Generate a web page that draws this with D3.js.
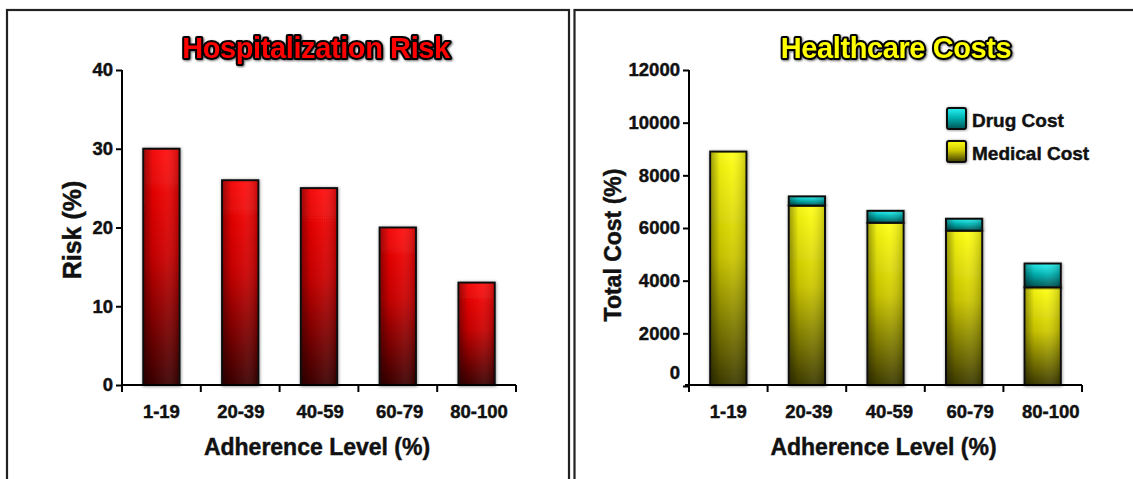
<!DOCTYPE html>
<html>
<head>
<meta charset="utf-8">
<script src="https://cdn.jsdelivr.net/npm/d3@7"></script>
<style>
  html, body { margin: 0; padding: 0; background: #fff; }
  svg { display: block; font-family: "Liberation Sans", Arial, sans-serif; font-weight: bold; }
  .lbl { fill: #111; stroke: #111; stroke-width: 0.45px; }
</style>
</head>
<body>
<svg id="chart" width="1133" height="479"></svg>
<script>
// Adherence groups shared by both panels
const categories = ["1-19", "20-39", "40-59", "60-79", "80-100"];

// Hospitalization risk (%) per adherence group
const riskValues = [30, 26, 25, 20, 13];
const riskTicks = [0, 10, 20, 30, 40];

// Healthcare costs, stacked: medical cost at the bottom, drug cost on top
const medicalCost = [8900, 6850, 6200, 5900, 3750];
const drugCost = [0, 350, 450, 450, 900];
const costTicks = [0, 2000, 4000, 6000, 8000, 10000, 12000];

const seriesNames = ["Medical Cost", "Drug Cost"];
const legendNames = ["Drug Cost", "Medical Cost"];

const svg = d3.select("#chart");
const defs = svg.append("defs");

// Vertical shading: bright at the top, dark at the bottom
function vGradient(id, top, mid, bottom) {
  const g = defs.append("linearGradient").attr("id", id)
    .attr("x1", 0).attr("y1", 0).attr("x2", 0).attr("y2", 1);
  g.append("stop").attr("offset", "0%").attr("stop-color", top);
  g.append("stop").attr("offset", "45%").attr("stop-color", mid);
  g.append("stop").attr("offset", "100%").attr("stop-color", bottom);
}
vGradient("redFill", "#ff0a0a", "#cc0000", "#3c0000");
vGradient("yellowFill", "#ffff14", "#cdc800", "#3e3b00");
vGradient("cyanFill", "#2af2f2", "#00b4b4", "#005454");

// Horizontal sheen laid over each bar: darker edges, clearer middle
const sheen = defs.append("linearGradient").attr("id", "sheen")
  .attr("x1", 0).attr("y1", 0).attr("x2", 1).attr("y2", 0);
sheen.append("stop").attr("offset", "0%").attr("stop-color", "#000").attr("stop-opacity", 0.35);
sheen.append("stop").attr("offset", "25%").attr("stop-color", "#000").attr("stop-opacity", 0.05);
sheen.append("stop").attr("offset", "60%").attr("stop-color", "#fff").attr("stop-opacity", 0.05);
sheen.append("stop").attr("offset", "100%").attr("stop-color", "#000").attr("stop-opacity", 0.2);

const shadow = defs.append("filter").attr("id", "barShadow")
  .attr("x", "-30%").attr("y", "-10%").attr("width", "160%").attr("height", "120%");
shadow.append("feDropShadow").attr("dx", 0.5).attr("dy", 0.5)
  .attr("stdDeviation", 1.4).attr("flood-color", "#000").attr("flood-opacity", 0.45);

const titleGlow = defs.append("filter").attr("id", "titleGlow")
  .attr("x", "-5%").attr("y", "-30%").attr("width", "110%").attr("height", "160%");
titleGlow.append("feGaussianBlur").attr("in", "SourceAlpha").attr("stdDeviation", 1.3).attr("result", "b");
titleGlow.append("feOffset").attr("in", "b").attr("dx", 0.5).attr("dy", 0.5).attr("result", "o");
titleGlow.append("feComponentTransfer").attr("in", "o").attr("result", "s")
  .append("feFuncA").attr("type", "linear").attr("slope", 0.6);
const tm = titleGlow.append("feMerge");
tm.append("feMergeNode").attr("in", "s");
tm.append("feMergeNode").attr("in", "SourceGraphic");

// Panel frames
svg.append("rect").attr("x", 7).attr("y", 10).attr("width", 562).attr("height", 520)
  .attr("fill", "none").attr("stroke", "#222").attr("stroke-width", 2.2);
svg.append("rect").attr("x", 574.5).attr("y", 10).attr("width", 600).attr("height", 520)
  .attr("fill", "none").attr("stroke", "#222").attr("stroke-width", 2.2);

function drawPanel(opt) {
  const g = svg.append("g");
  const x = d3.scaleBand().domain(categories)
    .range([opt.left, opt.right]).paddingInner(0.54).paddingOuter(0.27);
  const y = d3.scaleLinear().domain(opt.domain).range([opt.base, 70]);

  // Bars
  opt.drawBars(g, x, y);

  // Y axis
  const ya = g.append("g").attr("transform", `translate(${opt.left},0)`)
    .call(d3.axisLeft(y).tickValues(opt.ticks).tickFormat(d3.format("d"))
      .tickSize(6).tickPadding(3).tickSizeOuter(0));
  ya.select(".domain").attr("stroke", "#000").attr("stroke-width", 2)
    .attr("d", `M0,385V${y(opt.domain[1])}`);
  ya.selectAll(".tick line").attr("stroke", "#000").attr("stroke-width", 2);
  ya.selectAll(".tick text").attr("class", "lbl").attr("fill", null)
    .style("font-size", "18.5px").style("font-weight", "bold")
    .attr("dy", d => d === 0 ? (opt.zeroLift ? "-0.4em" : "0.32em") : "0.32em");

  // X axis: line with boundary ticks between groups, labels centred under bars
  const xa = g.append("g").attr("transform", "translate(0,385)");
  xa.append("line").attr("x1", opt.left - opt.axisLead).attr("x2", opt.right)
    .attr("stroke", "#000").attr("stroke-width", 2);
  const bounds = d3.range(categories.length + 1).map(i => opt.left + i * x.step());
  xa.selectAll("line.b").data(bounds).join("line").attr("class", "b")
    .attr("x1", d => d).attr("x2", d => d).attr("y1", 0).attr("y2", 7)
    .attr("stroke", "#000").attr("stroke-width", 2);
  xa.selectAll("text").data(categories).join("text").attr("class", "lbl")
    .attr("x", (d, i) => x(d) + x.bandwidth() / 2 + i * opt.labelDrift).attr("y", 33)
    .attr("text-anchor", "middle")
    .style("font-size", "18.5px").text(d => d);

  // Axis titles
  g.append("text").attr("class", "lbl").attr("x", (opt.left + opt.right) / 2 - 2).attr("y", 455)
    .attr("text-anchor", "middle").style("font-size", "23px")
    .text("Adherence Level (%)");
  g.append("text").attr("class", "lbl")
    .attr("transform", `translate(${opt.yTitleX},${opt.yTitleY}) rotate(-90)`)
    .attr("text-anchor", "middle").style("font-size", opt.yTitleSize)
    .text(opt.yTitle);

  // Chart title with dark outline
  g.append("text").attr("x", opt.titleX).attr("y", 58).attr("text-anchor", "middle")
    .style("font-size", "29px").style("letter-spacing", "-0.4px").attr("fill", opt.titleColor)
    .attr("stroke", "#000").attr("stroke-width", 4).attr("stroke-linejoin", "round")
    .attr("paint-order", "stroke").attr("filter", "url(#titleGlow)")
    .text(opt.title);
  return { g, x, y };
}

// Left panel: hospitalization risk
drawPanel({
  left: 122, right: 516, base: 385, domain: [0, 40], ticks: riskTicks, axisLead: 0,
  labelDrift: 0.6,
  yTitle: "Risk (%)", yTitleX: 81, yTitleY: 230, yTitleSize: "25px",
  title: "Hospitalization Risk", titleX: 316, titleColor: "#ff0000",
  drawBars(g, x, y) {
    const bars = g.selectAll("g.bar").data(categories).join("g").attr("class", "bar");
    bars.append("rect")
      .attr("x", d => x(d)).attr("width", x.bandwidth())
      .attr("y", (d, i) => y(riskValues[i])).attr("height", (d, i) => y(0) - y(riskValues[i]))
      .attr("fill", "url(#redFill)").attr("stroke", "#111").attr("stroke-width", 2)
      .attr("filter", "url(#barShadow)");
    bars.append("rect")
      .attr("x", d => x(d) + 1).attr("width", x.bandwidth() - 2)
      .attr("y", (d, i) => y(riskValues[i]) + 1).attr("height", (d, i) => y(0) - y(riskValues[i]) - 2)
      .attr("fill", "url(#sheen)");
  }
});

// Right panel: stacked healthcare costs
drawPanel({
  left: 689, right: 1082, base: 386, domain: [0, 12000], ticks: costTicks, axisLead: 4,
  zeroLift: true, labelDrift: 2,
  yTitle: "Total Cost (%)", yTitleX: 621, yTitleY: 245, yTitleSize: "23px",
  title: "Healthcare Costs", titleX: 896, titleColor: "#ffff00",
  drawBars(g, x, y) {
    const rows = categories.map((c, i) => ({ cat: c, "Medical Cost": medicalCost[i], "Drug Cost": drugCost[i] }));
    const stacked = d3.stack().keys(seriesNames)(rows);
    const fills = { "Medical Cost": "url(#yellowFill)", "Drug Cost": "url(#cyanFill)" };
    stacked.forEach(layer => {
      const segs = layer.filter(s => s[1] - s[0] > 0);
      const sg = g.append("g");
      sg.selectAll("rect.seg").data(segs).join("rect").attr("class", "seg")
        .attr("x", d => x(d.data.cat)).attr("width", x.bandwidth())
        .attr("y", d => y(d[1])).attr("height", d => Math.min(385, y(d[0])) - y(d[1]))
        .attr("fill", fills[layer.key]).attr("stroke", "#111").attr("stroke-width", 2)
        .attr("filter", "url(#barShadow)");
      sg.selectAll("rect.sh").data(segs).join("rect").attr("class", "sh")
        .attr("x", d => x(d.data.cat) + 1).attr("width", x.bandwidth() - 2)
        .attr("y", d => y(d[1]) + 1).attr("height", d => Math.max(0, Math.min(385, y(d[0])) - y(d[1]) - 2))
        .attr("fill", "url(#sheen)");
    });
  }
});

// Legend
const legend = svg.append("g");
const legendFill = { "Drug Cost": "url(#cyanFill)", "Medical Cost": "url(#yellowFill)" };
legendNames.forEach((name, i) => {
  const ly = 108 + i * 33;
  legend.append("rect").attr("x", 947).attr("y", ly).attr("width", 19).attr("height", 21)
    .attr("rx", 2).attr("fill", legendFill[name]).attr("stroke", "#111").attr("stroke-width", 2)
    .attr("filter", "url(#barShadow)");
  legend.append("text").attr("class", "lbl").attr("x", 972).attr("y", ly + 19)
    .style("font-size", "19px").text(name);
});
</script>
</body>
</html>
